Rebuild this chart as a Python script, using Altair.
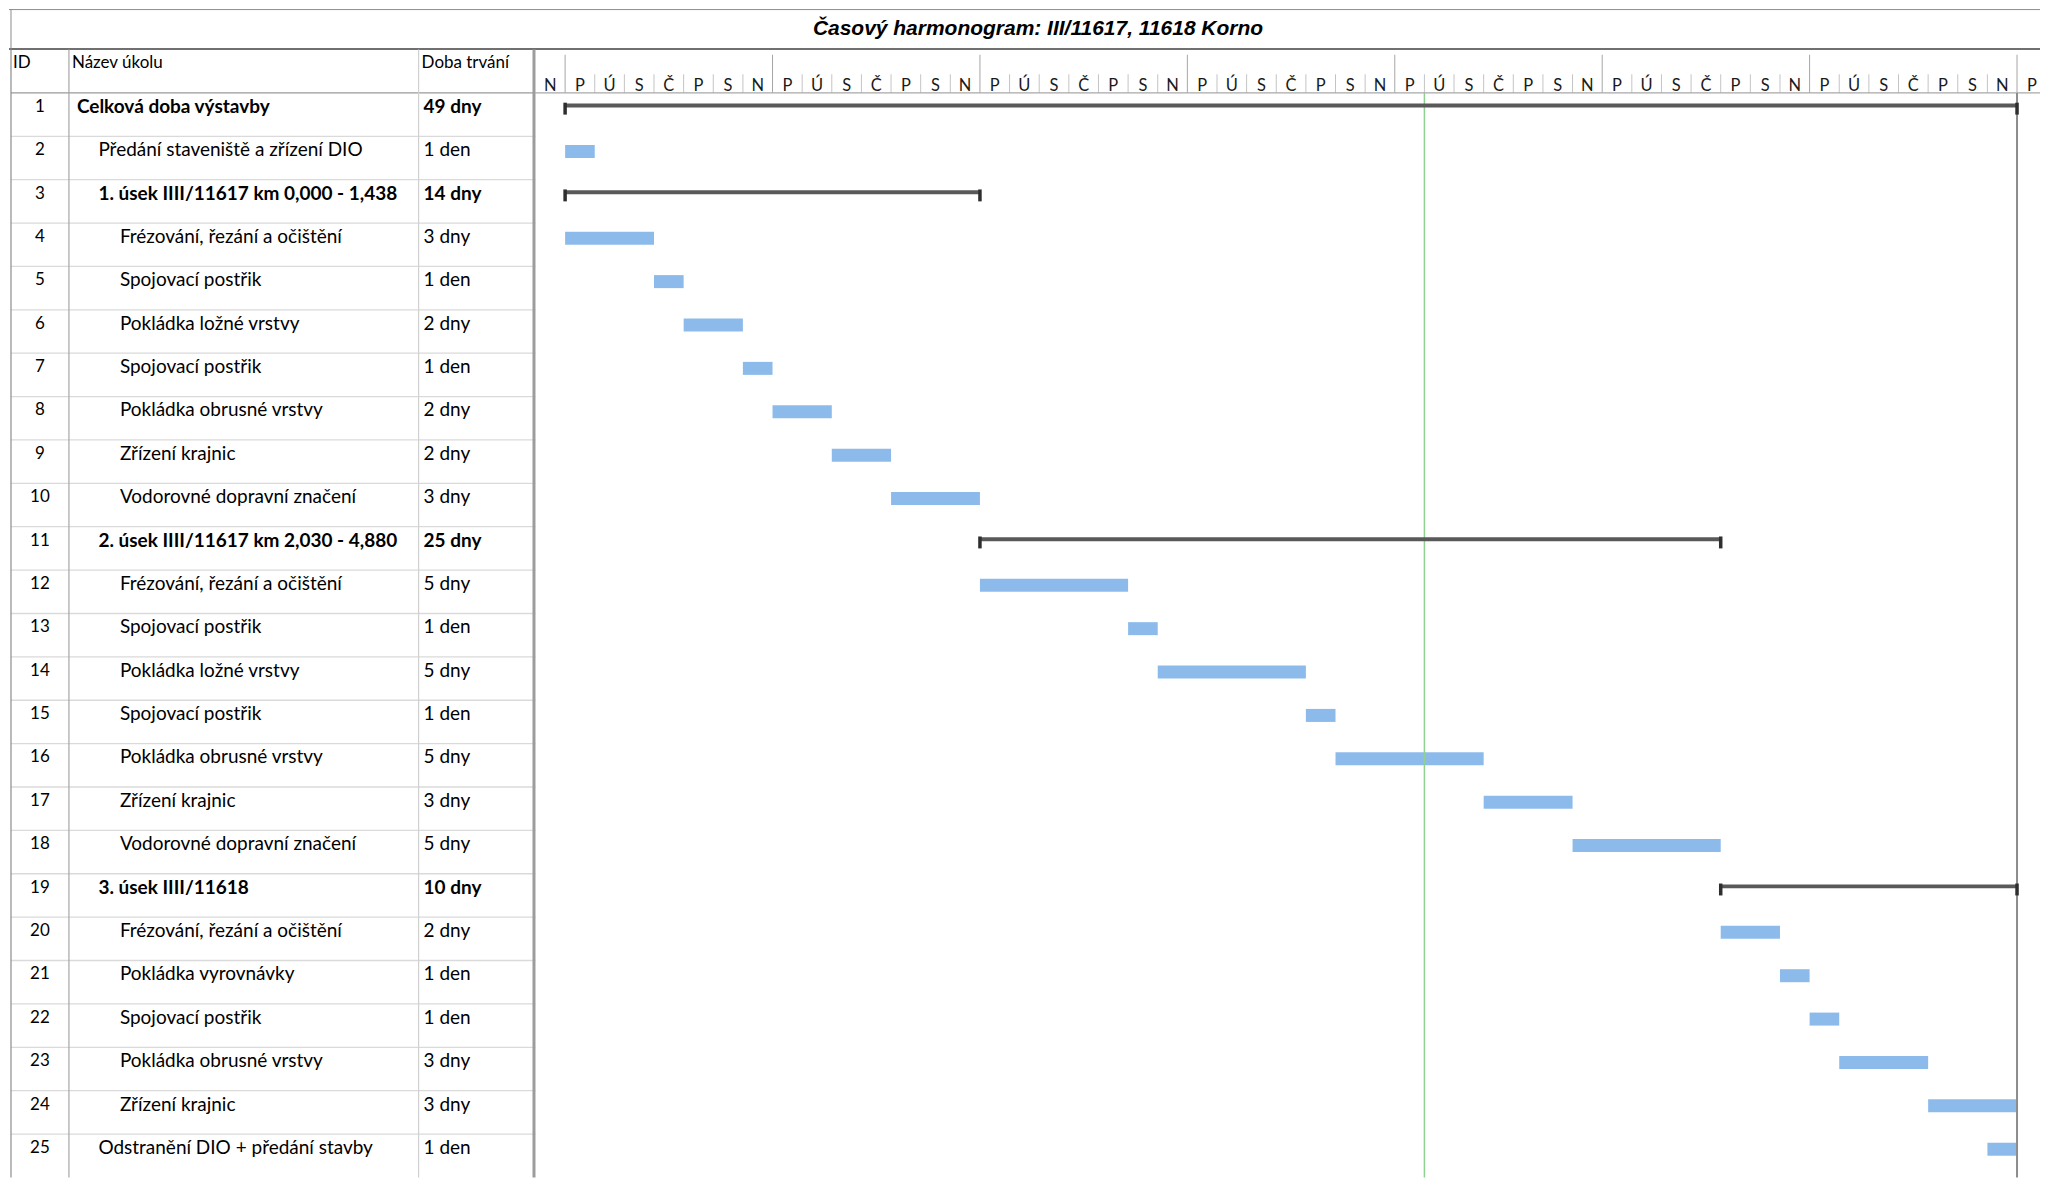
import altair as alt
import pandas as pd

# ---------------- data ----------------
TITLE = "Časový harmonogram: III/11617, 11618 Korno"
HEADER_LABELS = ["ID", "Název úkolu", "Doba trvání"]
WEEKDAY_LETTERS = ["P", "Ú", "S", "Č", "P", "S", "N"]  # Monday .. Sunday

task_ids = list(range(1, 26))
task_names = [
    "Celková doba výstavby",
    "Předání staveniště a zřízení DIO",
    "1. úsek IIII/11617 km 0,000 - 1,438",
    "Frézování, řezání a očištění",
    "Spojovací postřik",
    "Pokládka ložné vrstvy",
    "Spojovací postřik",
    "Pokládka obrusné vrstvy",
    "Zřízení krajnic",
    "Vodorovné dopravní značení",
    "2. úsek IIII/11617 km 2,030 - 4,880",
    "Frézování, řezání a očištění",
    "Spojovací postřik",
    "Pokládka ložné vrstvy",
    "Spojovací postřik",
    "Pokládka obrusné vrstvy",
    "Zřízení krajnic",
    "Vodorovné dopravní značení",
    "3. úsek IIII/11618",
    "Frézování, řezání a očištění",
    "Pokládka vyrovnávky",
    "Spojovací postřik",
    "Pokládka obrusné vrstvy",
    "Zřízení krajnic",
    "Odstranění DIO + předání stavby",
]
duration_labels = [
    "49 dny", "1 den", "14 dny", "3 dny", "1 den", "2 dny", "1 den", "2 dny",
    "2 dny", "3 dny", "25 dny", "5 dny", "1 den", "5 dny", "1 den", "5 dny",
    "3 dny", "5 dny", "10 dny", "2 dny", "1 den", "1 den", "3 dny", "3 dny", "1 den",
]
start_day = [0, 0, 0, 0, 3, 4, 6, 7, 9, 11, 14, 14, 19, 20, 25, 26, 31, 34,
             39, 39, 41, 42, 43, 46, 48]
length_days = [49, 1, 14, 3, 1, 2, 1, 2, 2, 3, 25, 5, 1, 5, 1, 5, 3, 5,
               10, 2, 1, 1, 3, 3, 1]
outline_level = [0, 1, 1, 2, 2, 2, 2, 2, 2, 2, 1, 2, 2, 2, 2, 2, 2, 2,
                 1, 2, 2, 2, 2, 2, 1]
is_summary = [True, False, True, False, False, False, False, False, False, False,
              True, False, False, False, False, False, False, False,
              True, False, False, False, False, False, False]
TODAY_DAY = 29
PROJECT_END_DAY = 49
FIRST_DAY = -1
LAST_DAY = 49

# ---------------- layout ----------------
TOTAL_W = 2033
TITLE_H = 41
TABLE_W = 527
GANTT_W = TOTAL_W - TABLE_W
DAY_W = 29.66
N_ROWS = len(task_ids)
ROW_H = 43.42
PANEL_H = round(ROW_H * (N_ROWS + 1))
ID_X0, NAME_X0, DUR_X0 = 2, 60, 410
INDENT = 21.5
FONT = "Lato"
ROW_FS = 19

tasks = pd.DataFrame({
    "id": task_ids,
    "name": task_names,
    "dur": duration_labels,
    "start": start_day,
    "length": length_days,
    "level": outline_level,
    "summary": is_summary,
})
tasks["end"] = tasks["start"] + tasks["length"]
tasks["txt_y"] = tasks["id"] + 0.32
tasks["bar_y"] = tasks["id"] + 0.20
tasks["bar_y2"] = tasks["id"] + 0.50
tasks["sum_y"] = tasks["id"] + 0.245
tasks["sum_y2"] = tasks["id"] + 0.335
tasks["cap_y"] = tasks["id"] + 0.225
tasks["cap_y2"] = tasks["id"] + 0.50
tasks["id_x"] = (ID_X0 + NAME_X0) / 2
tasks["name_x"] = NAME_X0 + 8 + tasks["level"] * INDENT
tasks["dur_x"] = DUR_X0 + 5

rows = pd.DataFrame({"pos": list(range(1, N_ROWS + 1))})
rows["major"] = rows["pos"] == 1

days = pd.DataFrame({"day": list(range(FIRST_DAY, LAST_DAY + 1))})
days["label"] = [WEEKDAY_LETTERS[d % 7] for d in days["day"]]
days["mid"] = days["day"] + 0.5
days["major"] = days["day"] % 7 == 0
days["top"] = days["major"].map({True: 0.12, False: 0.57})
days["bottom"] = 1.0
days["ly"] = 0.85
bounds = days[days["day"] > FIRST_DAY]

header = pd.DataFrame({
    "label": HEADER_LABELS,
    "x": [ID_X0 + 2, NAME_X0 + 3, DUR_X0 + 3],
    "y": [0.32, 0.32, 0.32],
})

marker_lines = pd.DataFrame({
    "day": [TODAY_DAY, PROJECT_END_DAY],
    "kind": ["today", "end"],
    "y": [1, 1],
    "y2": [N_ROWS + 1, N_ROWS + 1],
})

yscale = alt.Scale(domain=[0, N_ROWS + 1], reverse=True, nice=False, zero=False)


def Y(f):
    return alt.Y(f, type="quantitative", scale=yscale, axis=None)


def Y2(f):
    return alt.Y2(f)


PX = alt.Scale(domain=[0, TABLE_W], range=[0, TABLE_W])

# ---------------- title panel ----------------
title_df = pd.DataFrame({"title": [TITLE]})
title_base = alt.Chart(title_df)
title_panel = alt.layer(
    title_base.mark_rule(color="#8c8c8c", strokeWidth=1).encode(
        x=alt.value(0), x2=alt.value(TOTAL_W), y=alt.value(1)),
    title_base.mark_rule(color="#404040", strokeWidth=1.5).encode(
        x=alt.value(0), x2=alt.value(TOTAL_W), y=alt.value(TITLE_H - 0.5)),
    title_base.mark_rule(color="#8c8c8c", strokeWidth=1).encode(
        x=alt.value(ID_X0), y=alt.value(1), y2=alt.value(TITLE_H)),
    title_base.mark_text(font="Liberation Sans", fontSize=21, fontWeight="bold",
                         fontStyle="italic", color="#000000",
                         align="center", baseline="middle").encode(
        x=alt.value(1030), y=alt.value(20), text="title:N"),
).properties(width=TOTAL_W, height=TITLE_H)

# ---------------- table panel ----------------
vlines = pd.DataFrame({
    "x": [ID_X0, NAME_X0, DUR_X0, TABLE_W - 1.5],
    "color": ["#8c8c8c", "#a6a6a6", "#d0d0d0", "#9c9c9c"],
    "w": [1.2, 1.2, 1.2, 3],
    "y": [0, 0, 0, 0],
    "y2": [N_ROWS + 1] * 4,
})

table_rows = alt.Chart(rows).mark_rule(strokeWidth=1.3).encode(
    x=alt.value(ID_X0), x2=alt.value(TABLE_W),
    y=Y("pos"),
    color=alt.condition("datum.major", alt.value("#9a9a9a"), alt.value("#dadada")),
)
table_vlines = alt.Chart(vlines).mark_rule().encode(
    x=alt.X("x:Q", scale=PX, axis=None),
    y=Y("y"), y2=Y2("y2"),
    color=alt.Color("color:N", scale=None),
    strokeWidth=alt.StrokeWidth("w:Q", scale=None),
)
table_header = alt.Chart(header).mark_text(
    font=FONT, fontSize=17, align="left", baseline="middle", color="#000000"
).encode(x=alt.X("x:Q", scale=PX, axis=None), y=Y("y"), text="label:N")

tb = alt.Chart(tasks)
id_text = tb.mark_text(font=FONT, fontSize=17, align="center", baseline="middle",
                       color="#000000").encode(
    x=alt.X("id_x:Q", scale=PX, axis=None), y=Y("txt_y"), text="id:N")
name_plain = tb.transform_filter("!datum.summary").mark_text(
    font=FONT, fontSize=ROW_FS, align="left", baseline="middle", color="#000000").encode(
    x=alt.X("name_x:Q", scale=PX, axis=None), y=Y("txt_y"), text="name:N")
name_bold = tb.transform_filter("datum.summary").mark_text(
    font=FONT, fontSize=ROW_FS, fontWeight="bold", align="left", baseline="middle",
    color="#000000").encode(
    x=alt.X("name_x:Q", scale=PX, axis=None), y=Y("txt_y"), text="name:N")
dur_plain = tb.transform_filter("!datum.summary").mark_text(
    font=FONT, fontSize=ROW_FS, align="left", baseline="middle", color="#000000").encode(
    x=alt.X("dur_x:Q", scale=PX, axis=None), y=Y("txt_y"), text="dur:N")
dur_bold = tb.transform_filter("datum.summary").mark_text(
    font=FONT, fontSize=ROW_FS, fontWeight="bold", align="left", baseline="middle",
    color="#000000").encode(
    x=alt.X("dur_x:Q", scale=PX, axis=None), y=Y("txt_y"), text="dur:N")

table_panel = alt.layer(
    table_rows, table_vlines, table_header, id_text, name_plain, name_bold,
    dur_plain, dur_bold,
).properties(width=TABLE_W, height=PANEL_H)

# ---------------- gantt panel ----------------
xscale = alt.Scale(domain=[FIRST_DAY, FIRST_DAY + GANTT_W / DAY_W], nice=False, zero=False)


def X(f):
    return alt.X(f, type="quantitative", scale=xscale, axis=None)


day_lines = alt.Chart(bounds).mark_rule(strokeWidth=1).encode(
    x=X("day"), y=Y("top"), y2=Y2("bottom"),
    color=alt.condition("datum.major", alt.value("#a6a6a6"), alt.value("#c4c4c4")),
)
day_labels = alt.Chart(days).mark_text(
    font=FONT, fontSize=16.5, align="center", baseline="middle", color="#1a1a1a",
).encode(x=X("mid"), y=Y("ly"), text="label:N")
header_line = alt.Chart(rows[rows["pos"] == 1]).mark_rule(color="#a8a8a8", strokeWidth=1.3).encode(
    x=alt.value(0), x2=alt.value(GANTT_W), y=Y("pos"))

markers = alt.Chart(marker_lines).mark_rule().encode(
    x=X("day"), y=Y("y"), y2=Y2("y2"),
    color=alt.Color("kind:N", scale=alt.Scale(domain=["today", "end"],
                                             range=["#8fd18f", "#8c8c8c"]), legend=None),
    strokeWidth=alt.condition("datum.kind == 'today'", alt.value(1.5), alt.value(2)),
)

gb = alt.Chart(tasks)
task_bars = gb.transform_filter("!datum.summary").mark_rect(color="#8cbbeb").encode(
    x=X("start"), x2=alt.X2("end"), y=Y("bar_y"), y2=Y2("bar_y2"))
sum_bars = gb.transform_filter("datum.summary").mark_rect(color="#595959").encode(
    x=X("start"), x2=alt.X2("end"), y=Y("sum_y"), y2=Y2("sum_y2"))
cap_start = gb.transform_filter("datum.summary").mark_rule(color="#2e2e2e", strokeWidth=3.5).encode(
    x=X("start"), y=Y("cap_y"), y2=Y2("cap_y2"))
cap_end = gb.transform_filter("datum.summary").mark_rule(color="#2e2e2e", strokeWidth=3.5).encode(
    x=X("end"), y=Y("cap_y"), y2=Y2("cap_y2"))

gantt_panel = alt.layer(
    day_lines, day_labels, header_line, task_bars, markers, sum_bars, cap_start, cap_end,
).properties(width=GANTT_W, height=PANEL_H)

body = alt.hconcat(table_panel, gantt_panel, spacing=0, bounds="flush")
chart = alt.vconcat(title_panel, body, spacing=0, bounds="flush").properties(
    padding=0
).configure_view(stroke=None)

chart.save("out.html", embed_options={"renderer": "svg", "actions": False})
